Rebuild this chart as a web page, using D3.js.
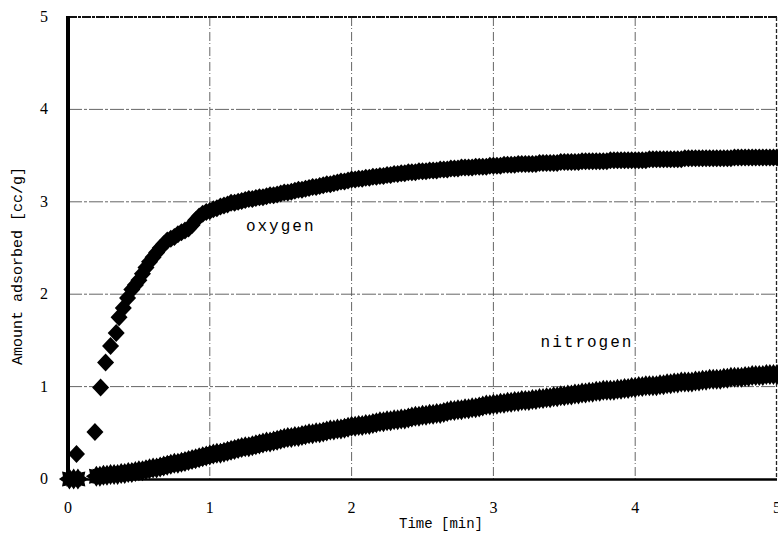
<!DOCTYPE html>
<html>
<head>
<meta charset="utf-8">
<script src="https://cdn.jsdelivr.net/npm/d3@7"></script>
<style>
  html, body { margin: 0; padding: 0; background: #fff; }
  svg { display: block; }
</style>
</head>
<body>
<div id="chart"></div>
<script>
// values: [time (min), amount adsorbed (cc/g)]
const oxygen = [
  [0.06, 0.27], [0.19, 0.51], [0.23, 0.99], [0.265, 1.26], [0.30, 1.44], [0.34, 1.58],
  [0.36, 1.75], [0.39, 1.85], [0.42, 1.96],
  [0.450, 2.05], [0.475, 2.10], [0.500, 2.15], [0.525, 2.22], [0.550, 2.29], [0.575, 2.35],
  [0.600, 2.40], [0.625, 2.45], [0.650, 2.50], [0.675, 2.54], [0.700, 2.58], [0.725, 2.60],
  [0.750, 2.62], [0.775, 2.65], [0.800, 2.67], [0.825, 2.69], [0.850, 2.71], [0.875, 2.75],
  [0.900, 2.80], [0.925, 2.84], [0.950, 2.87], [0.975, 2.89], [1.000, 2.90], [1.025, 2.92],
  [1.050, 2.93], [1.075, 2.95], [1.100, 2.96], [1.125, 2.97], [1.150, 2.99], [1.175, 2.99],
  [1.200, 3.00], [1.225, 3.01], [1.250, 3.02], [1.275, 3.03], [1.300, 3.03], [1.325, 3.04],
  [1.350, 3.05], [1.375, 3.05], [1.400, 3.06], [1.425, 3.07], [1.450, 3.07], [1.475, 3.08],
  [1.500, 3.09], [1.525, 3.10], [1.550, 3.10], [1.575, 3.11], [1.600, 3.12], [1.625, 3.13],
  [1.650, 3.13], [1.675, 3.14], [1.700, 3.15], [1.725, 3.16], [1.750, 3.16], [1.775, 3.17],
  [1.800, 3.18], [1.825, 3.19], [1.850, 3.19], [1.875, 3.20], [1.900, 3.21], [1.925, 3.22],
  [1.950, 3.22], [1.975, 3.23], [2.000, 3.24], [2.025, 3.24], [2.050, 3.25], [2.075, 3.25],
  [2.100, 3.26], [2.125, 3.26], [2.150, 3.27], [2.175, 3.27], [2.200, 3.28], [2.225, 3.28],
  [2.250, 3.29], [2.275, 3.29], [2.300, 3.30], [2.325, 3.30], [2.350, 3.31], [2.375, 3.31],
  [2.400, 3.32], [2.425, 3.32], [2.450, 3.32], [2.475, 3.33], [2.500, 3.33], [2.525, 3.33],
  [2.550, 3.34], [2.575, 3.34], [2.600, 3.34], [2.625, 3.35], [2.650, 3.35], [2.675, 3.35],
  [2.700, 3.36], [2.725, 3.36], [2.750, 3.36], [2.775, 3.37], [2.800, 3.37], [2.825, 3.37],
  [2.850, 3.37], [2.875, 3.38], [2.900, 3.38], [2.925, 3.38], [2.950, 3.38], [2.975, 3.39],
  [3.000, 3.39], [3.025, 3.39], [3.050, 3.39], [3.075, 3.40], [3.100, 3.40], [3.125, 3.40],
  [3.150, 3.40], [3.175, 3.41], [3.200, 3.41], [3.225, 3.41], [3.250, 3.41], [3.275, 3.41],
  [3.300, 3.41], [3.325, 3.42], [3.350, 3.42], [3.375, 3.42], [3.400, 3.42], [3.425, 3.42],
  [3.450, 3.42], [3.475, 3.43], [3.500, 3.43], [3.525, 3.43], [3.550, 3.43], [3.575, 3.43],
  [3.600, 3.43], [3.625, 3.44], [3.650, 3.44], [3.675, 3.44], [3.700, 3.44], [3.725, 3.44],
  [3.750, 3.44], [3.775, 3.44], [3.800, 3.44], [3.825, 3.45], [3.850, 3.45], [3.875, 3.45],
  [3.900, 3.45], [3.925, 3.45], [3.950, 3.45], [3.975, 3.45], [4.000, 3.45], [4.025, 3.45],
  [4.050, 3.45], [4.075, 3.45], [4.100, 3.46], [4.125, 3.46], [4.150, 3.46], [4.175, 3.46],
  [4.200, 3.46], [4.225, 3.46], [4.250, 3.46], [4.275, 3.46], [4.300, 3.46], [4.325, 3.46],
  [4.350, 3.47], [4.375, 3.47], [4.400, 3.47], [4.425, 3.47], [4.450, 3.47], [4.475, 3.47],
  [4.500, 3.47], [4.525, 3.47], [4.550, 3.47], [4.575, 3.47], [4.600, 3.47], [4.625, 3.47],
  [4.650, 3.47], [4.675, 3.47], [4.700, 3.48], [4.725, 3.48], [4.750, 3.48], [4.775, 3.48],
  [4.800, 3.48], [4.825, 3.48], [4.850, 3.48], [4.875, 3.48], [4.900, 3.48], [4.925, 3.48],
  [4.950, 3.48], [4.975, 3.48], [5.000, 3.48]
];

const nitrogen = [
  [0.01, 0.00], [0.04, 0.00], [0.07, 0.00],
  [0.200, 0.03], [0.225, 0.03], [0.250, 0.04], [0.275, 0.04], [0.300, 0.05], [0.325, 0.05],
  [0.350, 0.05], [0.375, 0.06], [0.400, 0.06], [0.425, 0.07], [0.450, 0.07], [0.475, 0.08],
  [0.500, 0.09], [0.525, 0.09], [0.550, 0.10], [0.575, 0.11], [0.600, 0.12], [0.625, 0.12],
  [0.650, 0.13], [0.675, 0.14], [0.700, 0.15], [0.725, 0.16], [0.750, 0.17], [0.775, 0.17],
  [0.800, 0.18], [0.825, 0.19], [0.850, 0.20], [0.875, 0.21], [0.900, 0.22], [0.925, 0.23],
  [0.950, 0.24], [0.975, 0.25], [1.000, 0.26], [1.025, 0.27], [1.050, 0.28], [1.075, 0.28],
  [1.100, 0.29], [1.125, 0.30], [1.150, 0.31], [1.175, 0.32], [1.200, 0.33], [1.225, 0.34],
  [1.250, 0.35], [1.275, 0.35], [1.300, 0.36], [1.325, 0.37], [1.350, 0.38], [1.375, 0.39],
  [1.400, 0.40], [1.425, 0.40], [1.450, 0.41], [1.475, 0.42], [1.500, 0.43], [1.525, 0.44],
  [1.550, 0.45], [1.575, 0.45], [1.600, 0.46], [1.625, 0.46], [1.650, 0.47], [1.675, 0.48],
  [1.700, 0.49], [1.725, 0.49], [1.750, 0.50], [1.775, 0.50], [1.800, 0.51], [1.825, 0.52],
  [1.850, 0.53], [1.875, 0.53], [1.900, 0.54], [1.925, 0.54], [1.950, 0.55], [1.975, 0.56],
  [2.000, 0.57], [2.025, 0.57], [2.050, 0.58], [2.075, 0.58], [2.100, 0.59], [2.125, 0.59],
  [2.150, 0.60], [2.175, 0.61], [2.200, 0.62], [2.225, 0.62], [2.250, 0.63], [2.275, 0.63],
  [2.300, 0.64], [2.325, 0.64], [2.350, 0.65], [2.375, 0.65], [2.400, 0.66], [2.425, 0.67],
  [2.450, 0.68], [2.475, 0.68], [2.500, 0.69], [2.525, 0.69], [2.550, 0.70], [2.575, 0.70],
  [2.600, 0.71], [2.625, 0.71], [2.650, 0.72], [2.675, 0.73], [2.700, 0.74], [2.725, 0.74],
  [2.750, 0.75], [2.775, 0.75], [2.800, 0.76], [2.825, 0.76], [2.850, 0.77], [2.875, 0.77],
  [2.900, 0.78], [2.925, 0.79], [2.950, 0.80], [2.975, 0.80], [3.000, 0.81], [3.025, 0.81],
  [3.050, 0.82], [3.075, 0.82], [3.100, 0.83], [3.125, 0.83], [3.150, 0.84], [3.175, 0.84],
  [3.200, 0.85], [3.225, 0.85], [3.250, 0.85], [3.275, 0.86], [3.300, 0.86], [3.325, 0.87],
  [3.350, 0.87], [3.375, 0.88], [3.400, 0.88], [3.425, 0.89], [3.450, 0.89], [3.475, 0.90],
  [3.500, 0.90], [3.525, 0.91], [3.550, 0.91], [3.575, 0.92], [3.600, 0.92], [3.625, 0.93],
  [3.650, 0.93], [3.675, 0.94], [3.700, 0.94], [3.725, 0.95], [3.750, 0.95], [3.775, 0.96],
  [3.800, 0.96], [3.825, 0.96], [3.850, 0.96], [3.875, 0.97], [3.900, 0.97], [3.925, 0.98],
  [3.950, 0.98], [3.975, 0.99], [4.000, 0.99], [4.025, 1.00], [4.050, 1.00], [4.075, 1.01],
  [4.100, 1.01], [4.125, 1.01], [4.150, 1.01], [4.175, 1.02], [4.200, 1.02], [4.225, 1.03],
  [4.250, 1.03], [4.275, 1.04], [4.300, 1.04], [4.325, 1.05], [4.350, 1.05], [4.375, 1.05],
  [4.400, 1.05], [4.425, 1.06], [4.450, 1.06], [4.475, 1.07], [4.500, 1.07], [4.525, 1.08],
  [4.550, 1.08], [4.575, 1.08], [4.600, 1.08], [4.625, 1.09], [4.650, 1.09], [4.675, 1.10],
  [4.700, 1.10], [4.725, 1.10], [4.750, 1.10], [4.775, 1.11], [4.800, 1.11], [4.825, 1.12],
  [4.850, 1.12], [4.875, 1.12], [4.900, 1.12], [4.925, 1.13], [4.950, 1.13], [4.975, 1.13],
  [5.000, 1.13]
];

const xTicks = [0, 1, 2, 3, 4, 5];
const yTicks = [0, 1, 2, 3, 4, 5];
const xTitle = "Time [min]";
const yTitle = "Amount adsorbed [cc/g]";
const seriesLabels = [
  { text: "oxygen", t: 1.5, v: 2.68 },
  { text: "nitrogen", t: 3.66, v: 1.43 }
];

const width = 778, height = 545;
const margin = { top: 17, right: 1, bottom: 66, left: 68 };

const svg = d3.select("#chart").append("svg")
    .attr("width", width)
    .attr("height", height)
    .attr("viewBox", [0, 0, width, height])
    .style("background", "#fff");

const x = d3.scaleLinear().domain([0, 5]).range([margin.left, width - margin.right]);
const y = d3.scaleLinear().domain([0, 5]).range([height - margin.bottom, margin.top]);

// grid
const grid = svg.append("g").attr("class", "grid")
    .attr("stroke", "#555").attr("stroke-width", 0.9);
grid.selectAll("line.v").data(xTicks.slice(1, -1)).join("line").attr("class", "v")
    .attr("x1", d => x(d)).attr("x2", d => x(d))
    .attr("y1", y(5)).attr("y2", y(0))
    .attr("stroke-dasharray", "9,2,1,3");
grid.selectAll("line.h").data(yTicks.slice(1, -1)).join("line").attr("class", "h")
    .attr("x1", x(0)).attr("x2", x(5))
    .attr("y1", d => y(d)).attr("y2", d => y(d))
    .attr("stroke-dasharray", "14,2,3,2");

// frame: rough top and right, heavy left and bottom
svg.append("line").attr("x1", x(0)).attr("x2", x(5)).attr("y1", y(5)).attr("y2", y(5))
    .attr("stroke", "#111").attr("stroke-width", 2.2).attr("stroke-dasharray", "9,1,3,1");
svg.append("line").attr("x1", x(5) - 0.5).attr("x2", x(5) - 0.5).attr("y1", y(5)).attr("y2", y(0))
    .attr("stroke", "#222").attr("stroke-width", 1.3).attr("stroke-dasharray", "4,2");

// markers
const diamond = "M0,-9L8.5,0L0,9L-8.5,0Z";
const star = d3.range(16).map(i => {
  const a = i * Math.PI / 8;
  const r = i % 2 ? 7 : 10.5;
  return [r * Math.sin(a), -r * Math.cos(a)];
});
const starPath = "M" + star.map(p => p.join(",")).join("L") + "Z";

svg.append("g").attr("class", "nitrogen")
  .selectAll("path").data(nitrogen).join("path")
    .attr("d", starPath)
    .attr("transform", d => `translate(${x(d[0])},${y(d[1])})`)
    .attr("fill", "#000");

svg.append("g").attr("class", "oxygen")
  .selectAll("path").data(oxygen).join("path")
    .attr("d", diamond)
    .attr("transform", d => `translate(${x(d[0])},${y(d[1])})`)
    .attr("fill", "#000");

// axis lines
svg.append("line").attr("x1", x(0)).attr("x2", x(5)).attr("y1", y(0) + 0.5).attr("y2", y(0) + 0.5)
    .attr("stroke", "#000").attr("stroke-width", 2.5);
svg.append("line").attr("x1", x(0)).attr("x2", x(0)).attr("y1", y(5) - 1).attr("y2", y(0) + 2)
    .attr("stroke", "#000").attr("stroke-width", 4);

// tick labels
svg.append("g").selectAll("text").data(xTicks).join("text")
    .attr("x", d => x(d)).attr("y", y(0) + 34)
    .attr("text-anchor", "middle")
    .style("font-family", "'Liberation Serif', serif").style("font-size", "16px")
    .text(d => d);
svg.append("g").selectAll("text").data(yTicks).join("text")
    .attr("x", 48).attr("y", d => y(d) + 5)
    .attr("text-anchor", "end")
    .style("font-family", "'Liberation Serif', serif").style("font-size", "16px")
    .text(d => d);

// titles
svg.append("text")
    .attr("x", 441).attr("y", 528)
    .attr("text-anchor", "middle")
    .style("font-family", "'Liberation Mono', monospace").style("font-size", "14px")
    .text(xTitle);
svg.append("text")
    .attr("transform", `translate(22,${266}) rotate(-90)`)
    .attr("text-anchor", "middle")
    .style("font-family", "'Liberation Mono', monospace").style("font-size", "15px")
    .text(yTitle);

svg.append("g").selectAll("text").data(seriesLabels).join("text")
    .attr("x", d => x(d.t)).attr("y", d => y(d.v))
    .attr("text-anchor", "middle")
    .style("font-family", "'Liberation Mono', monospace").style("font-size", "16px")
    .style("letter-spacing", "2px")
    .text(d => d.text);
</script>
</body>
</html>
